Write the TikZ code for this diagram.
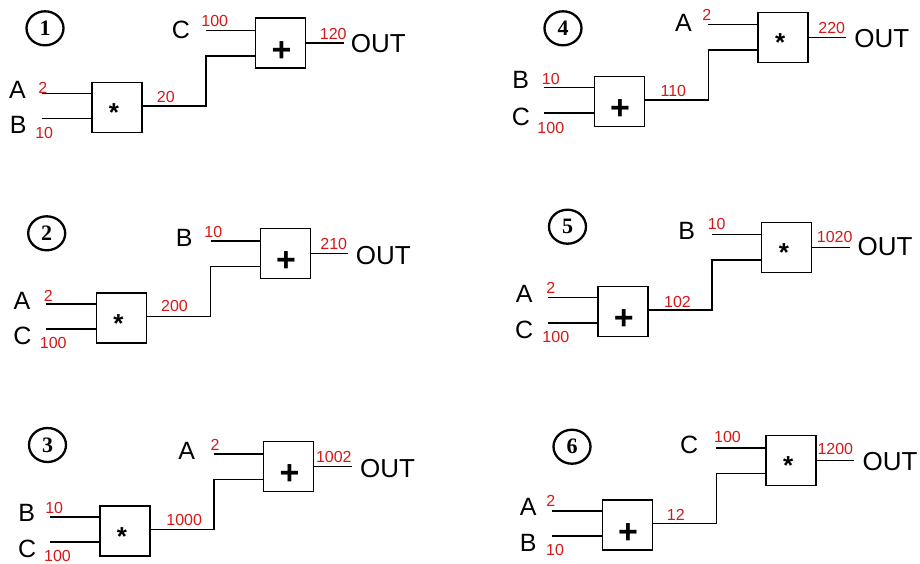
\documentclass[tikz,border=0pt]{standalone}
\usepackage{fontspec}
\setmainfont{Liberation Sans}
\newfontfamily\numserif{Liberation Serif}
\usetikzlibrary{shapes.geometric}
\definecolor{numred}{RGB}{214,24,24}
\tikzset{
  gate/.style={draw, line width=1.3pt, minimum width=50pt, minimum height=50pt, inner sep=0pt},
  wire/.style={line width=1.5pt},
  lbl/.style={font=\fontsize{25}{25}\selectfont, inner sep=0pt},
  outlbl/.style={font=\fontsize{26}{26}\selectfont, inner sep=0pt},
  val/.style={font=\fontsize{16}{16}\selectfont, text=numred, inner sep=0pt},
  num/.style={draw, ellipse, line width=2.3pt, minimum width=37pt, minimum height=34pt, inner sep=0pt, font=\numserif\bfseries\fontsize{22}{22}\selectfont},
  plusop/.style={font=\bfseries\fontsize{34}{34}\selectfont, inner sep=0pt, xshift=0.7pt, yshift=-8.2pt},
  starop/.style={font=\bfseries\fontsize{26}{26}\selectfont, inner sep=0pt, xshift=-3pt, yshift=-5.3pt},
}
\newcommand\gatepair[7]{%
  \node[gate] (#1s) at (#2,#3) {};
  \node[gate] (#1b) at ([shift={(163.8,-64.4)}]#1s) {};
  \node[#4] (#1so) at (#1s) {#5};
  \node[#6] (#1bo) at (#1b) {#7};
  \coordinate (#1i1) at ([shift={(-75.5,-14.2)}]#1s);
  \coordinate (#1i2) at ([shift={(-75.5,11.1)}]#1s);
  \coordinate (#1m1) at ([shift={(89,-1.6)}]#1s);
  \coordinate (#1m2) at ([shift={(-74.8,12.8)}]#1b);
  \coordinate (#1t) at ([shift={(-74.8,-12.8)}]#1b);
  \coordinate (#1o) at ([shift={(62.8,0)}]#1b);
  \draw[wire] (#1i1) -- (#1i1 -| #1s.west);
  \draw[wire] (#1i2) -- (#1i2 -| #1s.west);
  \draw[wire] (#1m1 -| #1s.east) -- (#1m1) -- (#1m2) -- (#1m2 -| #1b.west);
  \draw[wire] (#1t) -- (#1t -| #1b.west);
  \draw[wire] (#1b.east) -- (#1o);
}
\begin{document}
\begin{tikzpicture}[x=1pt,y=-1pt]
\fill[white] (0,0) rectangle (920,563);
\useasboundingbox (0,0) rectangle (920,563);

% ---------- Panel 1 ----------
\node[num] (n1) at (45,28.3) {1};
\gatepair{pa}{117}{107.5}{starop}{*}{plusop}{+}
\node[lbl] (paA) at (17.5,90.3) {A};
\node[val] (paAv) at (42.8,87.5) {2};
\node[lbl] (paB) at (18.3,125) {B};
\node[val] (paBv) at (44.2,132.5) {10};
\node[val] (pamv) at (165.8,97) {20};
\node[lbl] (paC) at (180.8,29.5) {C};
\node[val] (paCv) at (214.7,21.2) {100};
\node[val] (paov) at (333.3,33.8) {120};
\node[outlbl] (paout) at (378.3,43.3) {OUT};

% ---------- Panel 2 ----------
\node[num] (n2) at (46.7,233.3) {2};
\gatepair{pb}{121.5}{318}{starop}{*}{plusop}{+}
\node[lbl] (pbA) at (22,301.3) {A};
\node[val] (pbAv) at (48.3,295.8) {2};
\node[lbl] (pbC) at (22.5,335.5) {C};
\node[val] (pbCv) at (53.3,342.5) {100};
\node[val] (pbmv) at (174.5,306.3) {200};
\node[lbl] (pbB) at (184.3,238) {B};
\node[val] (pbBv) at (213.3,232.2) {10};
\node[val] (pbov) at (333.8,243.8) {210};
\node[outlbl] (pbout) at (383.3,255.5) {OUT};

% ---------- Panel 3 ----------
\node[num] (n3) at (47.5,445) {3};
\gatepair{pc}{125}{531}{starop}{*}{plusop}{+}
\node[lbl] (pcB) at (26.7,512.8) {B};
\node[val] (pcBv) at (54.2,507.8) {10};
\node[lbl] (pcC) at (27.2,548.7) {C};
\node[val] (pcCv) at (57.5,555.5) {100};
\node[val] (pcmv) at (184.2,519.7) {1000};
\node[lbl] (pcA) at (186.7,450.8) {A};
\node[val] (pcAv) at (215,444.5) {2};
\node[val] (pcov) at (333.8,456.7) {1002};
\node[outlbl] (pcout) at (387.5,468.3) {OUT};

% ---------- Panel 4 ----------
\node[num] (n4) at (563,28.3) {4};
\gatepair{pd}{619.3}{101.7}{plusop}{+}{starop}{*}
\node[lbl] (pdB) at (520.8,80) {B};
\node[val] (pdBv) at (550.8,78.7) {10};
\node[lbl] (pdC) at (520.8,116.7) {C};
\node[val] (pdCv) at (550.8,127.5) {100};
\node[val] (pdmv) at (673.3,91.2) {110};
\node[lbl] (pdA) at (683.5,22.8) {A};
\node[val] (pdAv) at (706.7,15) {2};
\node[val] (pdov) at (831.7,27.5) {220};
\node[outlbl] (pdout) at (881.7,38.3) {OUT};

% ---------- Panel 5 ----------
\node[num] (n5) at (567.5,226.7) {5};
\gatepair{pe}{623}{311.7}{plusop}{+}{starop}{*}
\node[lbl] (peA) at (524.2,294.2) {A};
\node[val] (peAv) at (550.8,287.5) {2};
\node[lbl] (peC) at (524.2,330) {C};
\node[val] (peCv) at (555.8,336.7) {100};
\node[val] (pemv) at (677.5,301.5) {102};
\node[lbl] (peB) at (686.7,230.5) {B};
\node[val] (peBv) at (716.7,224.2) {10};
\node[val] (peov) at (834.7,237) {1020};
\node[outlbl] (peout) at (885,246.3) {OUT};

% ---------- Panel 6 ----------
\node[num] (n6) at (572,446.7) {6};
\gatepair{pf}{627.3}{525}{plusop}{+}{starop}{*}
\node[lbl] (pfA) at (528.3,506.5) {A};
\node[val] (pfAv) at (550.8,501.2) {2};
\node[lbl] (pfB) at (528.3,542.8) {B};
\node[val] (pfBv) at (555,550.3) {10};
\node[val] (pfmv) at (675.8,514.5) {12};
\node[lbl] (pfC) at (689.2,445) {C};
\node[val] (pfCv) at (727.5,437) {100};
\node[val] (pfov) at (835.3,448.7) {1200};
\node[outlbl] (pfout) at (890,462) {OUT};
\end{tikzpicture}
\end{document}
